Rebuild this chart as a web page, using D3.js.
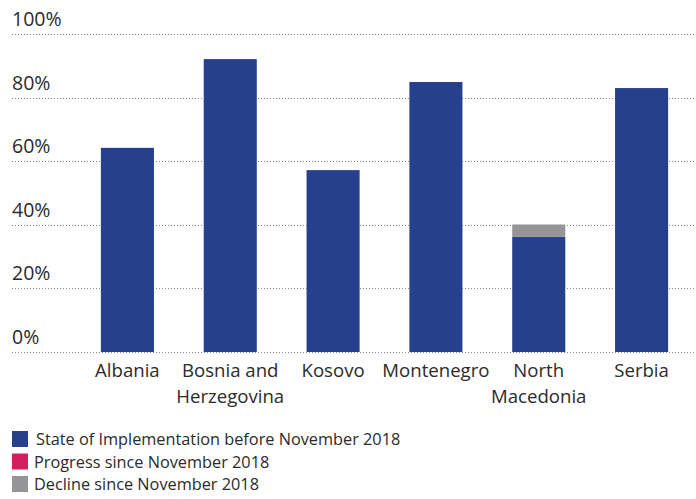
<!DOCTYPE html>
<html>
<head>
<meta charset="utf-8">
<script src="https://cdn.jsdelivr.net/npm/d3@7"></script>
<style>
  html, body { margin: 0; padding: 0; background: #fff; }
  svg { display: block; font-family: "Open Sans", sans-serif; }
</style>
</head>
<body>
<svg id="chart" width="696" height="499"></svg>
<script>
const categories = ["Albania", "Bosnia and Herzegovina", "Kosovo", "Montenegro", "North Macedonia", "Serbia"];
const stateBefore = [64.2, 92.1, 57.2, 84.9, 36.2, 83.0];
const progress = [0, 0, 0, 0, 0, 0];
const decline = [0, 0, 0, 0, 3.9, 0];
const yTicks = [0, 20, 40, 60, 80, 100];
const seriesNames = ["State of Implementation before November 2018", "Progress since November 2018", "Decline since November 2018"];
const seriesColors = ["#26408e", "#d41f5f", "#959598"];

const svg = d3.select("#chart");
const W = 696;
const y = d3.scaleLinear().domain([0, 100]).range([352, 34]);
const x = d3.scaleBand().domain(categories).range([76, 693]).paddingInner(0.484).paddingOuter(0.242);

// gridlines
const grid = svg.append("g");
grid.selectAll("line").data(yTicks).join("line")
  .attr("x1", 12).attr("x2", W)
  .attr("y1", d => Math.round(y(d)) + 0.5).attr("y2", d => Math.round(y(d)) + 0.5)
  .attr("stroke", "#8a8a8a").attr("stroke-width", 1).attr("stroke-dasharray", "1,2");

grid.selectAll("text").data(yTicks).join("text")
  .attr("x", 12).attr("y", d => y(d) - 8)
  .attr("font-size", 19.5).attr("fill", "#2b2b2b")
  .text(d => d + "%");

// stacked bars
const rows = categories.map((c, i) => ({ c, s: stateBefore[i], p: progress[i], d: decline[i] }));
const bars = svg.append("g");
rows.forEach(r => {
  const segs = [
    { v0: 0, v1: r.s, col: seriesColors[0] },
    { v0: r.s, v1: r.s + r.p, col: seriesColors[1] },
    { v0: r.s + r.p, v1: r.s + r.p + r.d, col: seriesColors[2] }
  ].filter(s => s.v1 > s.v0);
  bars.selectAll(null).data(segs).join("rect")
    .attr("x", x(r.c)).attr("width", x.bandwidth())
    .attr("y", s => y(s.v1)).attr("height", s => y(s.v0) - y(s.v1))
    .attr("fill", s => s.col);
});

// x axis labels
const xl = svg.append("g");
xl.selectAll("text").data(categories).join("text")
  .attr("x", d => x(d) + x.bandwidth() / 2)
  .attr("y", 377)
  .attr("text-anchor", "middle")
  .attr("font-size", 18.6).attr("fill", "#2b2b2b")
  .each(function(d) {
    const t = d3.select(this);
    const words = d.split(" ");
    let lines = [], line = [];
    const tmp = t.append("tspan");
    words.forEach(w => {
      const test = line.concat(w).join(" ");
      tmp.text(test);
      if (tmp.node().getComputedTextLength() > x.step() - 4 && line.length) {
        lines.push(line.join(" "));
        line = [w];
      } else line.push(w);
    });
    lines.push(line.join(" "));
    tmp.remove();
    lines.forEach((l, i) => {
      t.append("tspan").attr("x", x(d) + x.bandwidth() / 2).attr("dy", i === 0 ? 0 : 26).text(l);
    });
  });

// legend
const lg = svg.append("g");
seriesNames.forEach((n, i) => {
  const yy = 431 + i * 22.5;
  lg.append("rect").attr("x", 12).attr("y", yy).attr("width", 16).attr("height", 16).attr("fill", seriesColors[i]);
  lg.append("text").attr("x", i === 0 ? 36 : 34).attr("y", yy + 14)
    .attr("font-size", 16.3).attr("fill", "#2b2b2b").text(n);
});
</script>
</body>
</html>
